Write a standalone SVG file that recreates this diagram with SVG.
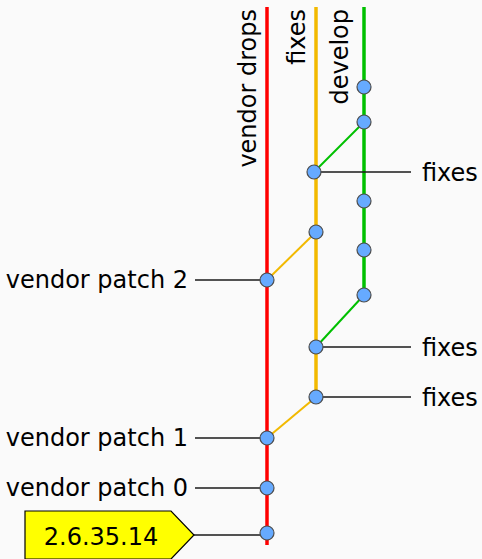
<svg xmlns="http://www.w3.org/2000/svg" width="482" height="559" viewBox="0 0 482 559">
  <style>
    text { font-family: "DejaVu Sans", "Liberation Sans", sans-serif; font-size: 24px; fill: #000; }
    .branch { fill: none; stroke-width: 3.5; }
    .merge { fill: none; stroke-width: 2; }
    .red { stroke: #ff0000; }
    .yellow { stroke: #f2b900; }
    .green { stroke: #00c000; }
    .leader { stroke: #1a1a1a; stroke-width: 1.3; fill: none; }
    .commit { fill: #66aaff; stroke: #4d4d4d; stroke-width: 1.2; }
  </style>
  <rect width="482" height="559" fill="#fafafa"/>

  <!-- branch lines and merges -->
  <g id="connectors">
    <line class="branch red" x1="267" y1="7" x2="267" y2="545"/>
    <line class="branch yellow" x1="316" y1="7" x2="316" y2="397"/>
    <line class="branch green" x1="364" y1="7" x2="364" y2="295"/>
    <line class="merge green" x1="364" y1="122" x2="314" y2="172"/>
    <line class="merge yellow" x1="316" y1="232" x2="267" y2="280"/>
    <line class="merge green" x1="364" y1="295" x2="316" y2="347"/>
    <line class="merge yellow" x1="316" y1="397" x2="267" y2="438"/>
    <!-- label leaders -->
    <line class="leader" x1="314" y1="172" x2="411" y2="172"/>
    <line class="leader" x1="316" y1="347" x2="411" y2="347"/>
    <line class="leader" x1="316" y1="397" x2="411" y2="397"/>
    <line class="leader" x1="195" y1="280" x2="267" y2="280"/>
    <line class="leader" x1="195" y1="438" x2="267" y2="438"/>
    <line class="leader" x1="195" y1="488" x2="267" y2="488"/>
    <line class="leader" x1="194" y1="535" x2="267" y2="535"/>
  </g>

  <!-- branch titles -->
  <g id="branch-labels">
    <text transform="translate(256,9) rotate(-90)" text-anchor="end">vendor drops</text>
    <text transform="translate(305,9) rotate(-90)" text-anchor="end">fixes</text>
    <text transform="translate(348,9) rotate(-90)" text-anchor="end">develop</text>
  </g>

  <!-- develop commits -->
  <g id="develop-commits">
    <circle class="commit" cx="364" cy="87" r="7"/>
    <circle class="commit" cx="364" cy="122" r="7"/>
    <circle class="commit" cx="364" cy="201" r="7"/>
    <circle class="commit" cx="364" cy="250" r="7"/>
    <circle class="commit" cx="364" cy="295" r="7"/>
  </g>

  <!-- fixes commits -->
  <g id="fixes-1">
    <circle class="commit" cx="314" cy="172" r="7"/>
    <text x="422" y="181">fixes</text>
  </g>
  <g id="fixes-merge">
    <circle class="commit" cx="316" cy="232" r="7"/>
  </g>
  <g id="fixes-2">
    <circle class="commit" cx="316" cy="347" r="7"/>
    <text x="422" y="356">fixes</text>
  </g>
  <g id="fixes-3">
    <circle class="commit" cx="316" cy="397" r="7"/>
    <text x="422" y="406">fixes</text>
  </g>

  <!-- vendor drops -->
  <g id="vendor-patch-2">
    <circle class="commit" cx="267" cy="280" r="7"/>
    <text x="188" y="288" text-anchor="end">vendor patch 2</text>
  </g>
  <g id="vendor-patch-1">
    <circle class="commit" cx="267" cy="438" r="7"/>
    <text x="188" y="446" text-anchor="end">vendor patch 1</text>
  </g>
  <g id="vendor-patch-0">
    <circle class="commit" cx="267" cy="488" r="7"/>
    <text x="188" y="496" text-anchor="end">vendor patch 0</text>
  </g>
  <g id="tag-2.6.35.14">
    <path d="M25,511 H171 L194,535 L171,559 H25 Z" fill="#ffff00" stroke="#000" stroke-width="1.2"/>
    <text x="101" y="545" text-anchor="middle">2.6.35.14</text>
    <circle class="commit" cx="267" cy="533" r="7"/>
  </g>
</svg>
